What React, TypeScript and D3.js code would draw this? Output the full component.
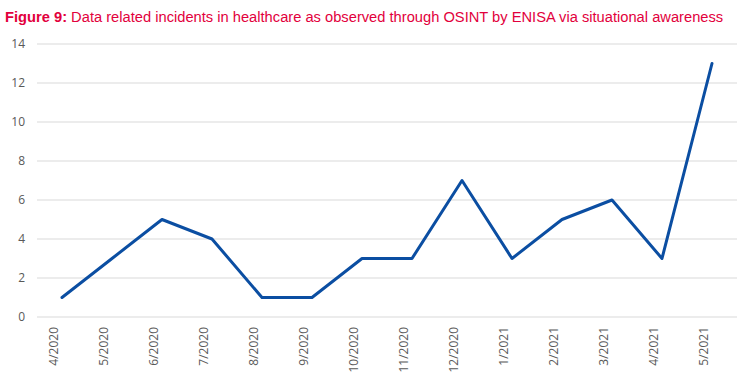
import * as d3 from 'd3';
import React, { useRef, useEffect } from 'react';

const months = ['4/2020', '5/2020', '6/2020', '7/2020', '8/2020', '9/2020', '10/2020', '11/2020', '12/2020', '1/2021', '2/2021', '3/2021', '4/2021', '5/2021'];
const incidents = [1, 3, 5, 4, 1, 1, 3, 3, 7, 3, 5, 6, 3, 13];
const yTicks = [0, 2, 4, 6, 8, 10, 12, 14];

const width = 738;
const height = 373;

function LineChart() {
    const ref = useRef<SVGSVGElement>(null);

    useEffect(() => {
        const svg = d3.select(ref.current);
        svg.selectAll('*').remove();

        const x = d3.scalePoint<string>().domain(months).range([62, 712]);
        const y = d3.scaleLinear().domain([0, 14]).range([317, 44]);

        // title
        const title = svg.append('text')
            .attr('x', 5)
            .attr('y', 22)
            .attr('fill', '#E2003C')
            .style('font-family', '"Liberation Sans", Arial, sans-serif')
            .style('font-size', '14.7px');
        title.append('tspan').attr('font-weight', 'bold').text('Figure 9:');
        title.append('tspan').text(' Data related incidents in healthcare as observed through OSINT by ENISA via situational awareness');

        // gridlines
        svg.append('g')
            .selectAll('line')
            .data(yTicks)
            .enter()
            .append('line')
            .attr('x1', 37)
            .attr('x2', 737)
            .attr('y1', d => y(d))
            .attr('y2', d => y(d))
            .attr('stroke', '#d9d9d9')
            .attr('stroke-width', 1);

        // y labels
        svg.append('g')
            .selectAll('text')
            .data(yTicks)
            .enter()
            .append('text')
            .attr('x', 25)
            .attr('y', d => y(d))
            .attr('dy', '0.35em')
            .attr('text-anchor', 'end')
            .attr('fill', '#595959')
            .style('font-family', '"Open Sans", sans-serif')
            .style('font-size', '12px')
            .text(d => d);

        // x labels
        svg.append('g')
            .selectAll('text')
            .data(months)
            .enter()
            .append('text')
            .attr('transform', d => `translate(${(x(d) as number) - 8},327) rotate(-90)`)
            .attr('text-anchor', 'end')
            .attr('dy', '0.35em')
            .attr('fill', '#595959')
            .style('font-family', '"Open Sans", sans-serif')
            .style('font-size', '12px')
            .text(d => d);

        const line = d3.line<number>()
            .x((d, i) => x(months[i]) as number)
            .y(d => y(d));

        svg.append('path')
            .datum(incidents)
            .attr('d', line)
            .attr('fill', 'none')
            .attr('stroke', '#0B4EA2')
            .attr('stroke-width', 3)
            .attr('stroke-linejoin', 'round')
            .attr('stroke-linecap', 'round');
    }, []);

    return <svg ref={ref} width={width} height={height} style={{ display: 'block' }} />;
}

export default function App() {
    return (
        <div style={{ position: 'absolute', left: 0, top: 0 }}>
            <LineChart />
        </div>
    );
}
